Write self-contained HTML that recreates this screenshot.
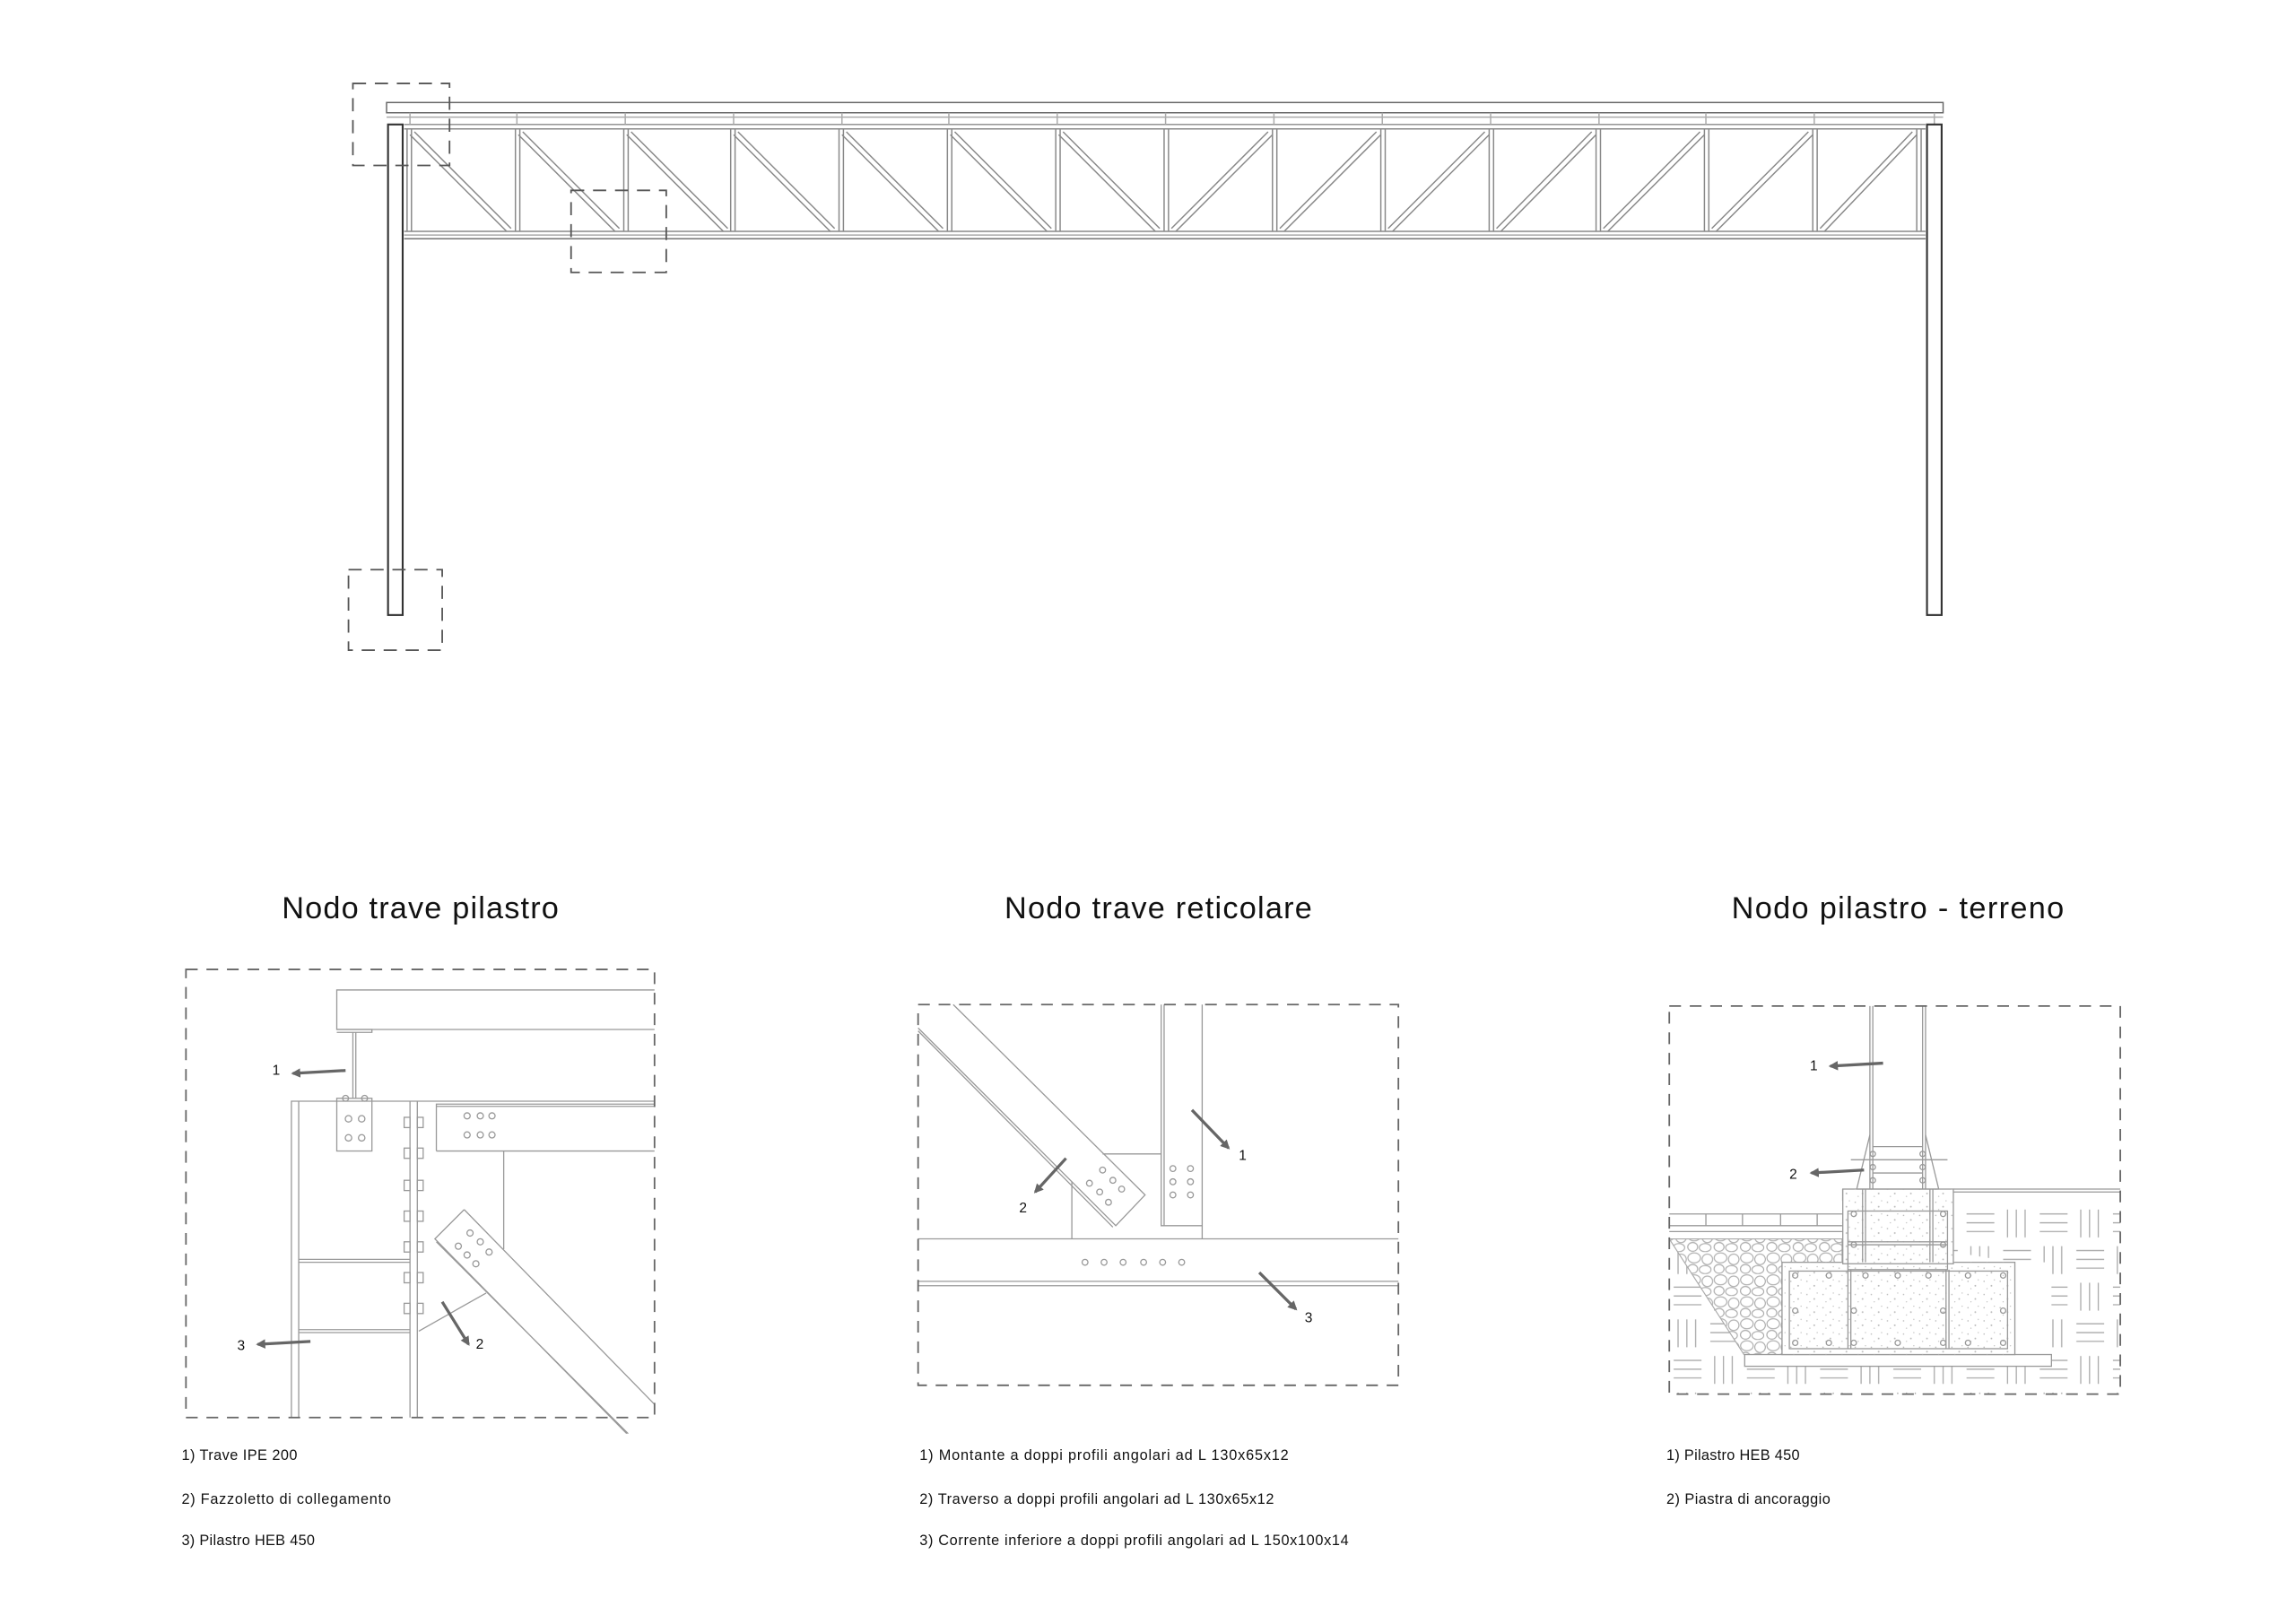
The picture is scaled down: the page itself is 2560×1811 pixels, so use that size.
<!DOCTYPE html>
<html><head><meta charset="utf-8"><style>
html,body{margin:0;padding:0;background:#fff}
svg{display:block}
text{font-family:"Liberation Sans Narrow","Liberation Sans",sans-serif;fill:#111}
</style></head><body>
<svg width="2560" height="1811" viewBox="0 0 1568 1109" preserveAspectRatio="none" xmlns="http://www.w3.org/2000/svg">
<defs>
<pattern id="soil" width="50" height="50" patternUnits="userSpaceOnUse" x="1140" y="823">
<g stroke="#aaa" stroke-width="0.8" fill="none">
<path d="M3 6H22M3 12H22M3 18H22"/>
<path d="M31 3V22M37 3V22M43 3V22"/>
<path d="M6 28V47M12 28V47M18 28V47"/>
<path d="M28 31H47M28 37H47M28 43H47"/>
</g></pattern>
<pattern id="grav" width="18" height="15" patternUnits="userSpaceOnUse">
<g stroke="#aaa" stroke-width="0.7" fill="none">
<ellipse cx="5" cy="4" rx="4.3" ry="3.4"/><ellipse cx="14" cy="5" rx="3.6" ry="3.6"/>
<ellipse cx="4" cy="11.5" rx="3.4" ry="3"/><ellipse cx="12.5" cy="12" rx="4" ry="2.8"/>
</g></pattern>
<pattern id="conc" width="11" height="9" patternUnits="userSpaceOnUse">
<g fill="#bbb"><circle cx="2" cy="2" r="0.5"/><circle cx="7" cy="5" r="0.6"/><circle cx="4" cy="7" r="0.4"/><circle cx="9" cy="1" r="0.4"/></g></pattern>
<marker id="ah" viewBox="0 0 10 10" refX="8" refY="5" markerWidth="3.2" markerHeight="3.2" orient="auto"><path d="M0 0L10 5L0 10z" fill="#666"/></marker>
</defs>

<!-- ================= TRUSS ================= -->
<g fill="none" stroke="#888" stroke-width="0.9">
<rect x="264" y="70" width="1063" height="7" stroke="#666"/>
<line x1="264" y1="80" x2="1327" y2="80" stroke="#aaa"/>
<line x1="276" y1="85" x2="1315" y2="85"/>
<line x1="276" y1="88" x2="1315" y2="88"/>
<line x1="276" y1="158" x2="1315" y2="158"/>
<line x1="276" y1="160.5" x2="1315" y2="160.5" stroke="#aaa"/>
<line x1="276" y1="163" x2="1315" y2="163" stroke="#666"/>
</g>
<g fill="none" stroke="#888" stroke-width="0.9">
<path d="M278 88V158M281 88V158M352 88V158M355 88V158M426 88V158M429 88V158M499 88V158M502 88V158M573 88V158M576 88V158M647 88V158M650 88V158M721 88V158M724 88V158M795 88V158M798 88V158M869 88V158M872 88V158M943 88V158M946 88V158M1017 88V158M1020 88V158M1090 88V158M1093 88V158M1164 88V158M1167 88V158M1238 88V158M1241 88V158M1309 88V158M1312 88V158"/>
<path d="M280 77V85M353 77V85M427 77V85M501 77V85M575 77V85M648 77V85M722 77V85M796 77V85M870 77V85M944 77V85M1018 77V85M1092 77V85M1165 77V85M1239 77V85M1321 77V85" stroke="#aaa"/>
<path d="M283 90L349 156M280 92L346 158M357 90L423 156M354 92L420 158M431 90L497 156M428 92L494 158M504 90L570 156M501 92L567 158M578 90L644 156M575 92L641 158M652 90L718 156M649 92L715 158M726 90L792 156M723 92L789 158"/>
<path d="M800 156L866 90M803 158L869 92M874 156L940 90M877 158L943 92M948 156L1014 90M951 158L1017 92M1022 156L1087 90M1025 158L1090 92M1095 156L1161 90M1098 158L1164 92M1169 156L1235 90M1172 158L1238 92M1243 156L1306 90M1246 158L1309 92"/>
</g>
<rect x="265" y="85" width="10" height="335" fill="#fff" stroke="#333" stroke-width="1.3"/>
<rect x="1316" y="85" width="10" height="335" fill="#fff" stroke="#333" stroke-width="1.3"/>

<g fill="none" stroke="#555" stroke-width="1.1" stroke-dasharray="9 6">
<rect x="241" y="57" width="66" height="56"/>
<rect x="390" y="130" width="65" height="56"/>
<rect x="238" y="389" width="64" height="55"/>
</g>

<!-- ================= TITLES ================= -->
<text x="287" y="627" font-size="21" text-anchor="middle" textLength="189" style="font-family:'Liberation Sans',sans-serif">Nodo trave pilastro</text>
<text x="791" y="627" font-size="21" text-anchor="middle" textLength="210" style="font-family:'Liberation Sans',sans-serif">Nodo trave reticolare</text>
<text x="1296" y="627" font-size="21" text-anchor="middle" textLength="227" style="font-family:'Liberation Sans',sans-serif">Nodo pilastro - terreno</text>

<!-- ================= DETAIL 1 ================= -->
<g fill="none" stroke="#999" stroke-width="0.8">
<path d="M447 676H230V703H447"/>
<path d="M230 703H254V705H230"/>
<path d="M241 705V750M243 705V750"/>
<rect x="230" y="750" width="24" height="36"/>
<circle cx="238" cy="764" r="2.2"/><circle cx="247" cy="764" r="2.2"/>
<circle cx="238" cy="777" r="2.2"/><circle cx="247" cy="777" r="2.2"/>
<circle cx="236" cy="750" r="2"/><circle cx="249" cy="750" r="2"/>
<path d="M199 968V752H447M204 968V752"/>
<path d="M280 968V752M285 968V752"/>
<path d="M298 786V754H447M298 755.5H447M298 786H447"/>
<circle cx="319" cy="762" r="2.1"/><circle cx="328" cy="762" r="2.1"/><circle cx="336" cy="762" r="2.1"/>
<circle cx="319" cy="775" r="2.1"/><circle cx="328" cy="775" r="2.1"/><circle cx="336" cy="775" r="2.1"/>
<path d="M204 860H280M204 862H280M204 908H280M204 910H280"/>
<path d="M344 786V853"/>
<path d="M286 909L332 883"/>
<path d="M317 826L297 846L428 979M317 826L447 959M298 848L429 979"/>
<circle cx="321" cy="842" r="2.1"/><circle cx="328" cy="848" r="2.1"/><circle cx="334" cy="855" r="2.1"/>
<circle cx="313" cy="851" r="2.1"/><circle cx="319" cy="857" r="2.1"/><circle cx="325" cy="863" r="2.1"/>
</g>
<g fill="none" stroke="#999" stroke-width="0.8">
<rect x="276" y="763" width="4" height="7"/><rect x="285" y="763" width="4" height="7"/>
<rect x="276" y="784" width="4" height="7"/><rect x="285" y="784" width="4" height="7"/>
<rect x="276" y="806" width="4" height="7"/><rect x="285" y="806" width="4" height="7"/>
<rect x="276" y="827" width="4" height="7"/><rect x="285" y="827" width="4" height="7"/>
<rect x="276" y="848" width="4" height="7"/><rect x="285" y="848" width="4" height="7"/>
<rect x="276" y="869" width="4" height="7"/><rect x="285" y="869" width="4" height="7"/>
<rect x="276" y="890" width="4" height="7"/><rect x="285" y="890" width="4" height="7"/>
</g>
<rect x="127" y="662" width="320" height="306" fill="none" stroke="#666" stroke-width="1.1" stroke-dasharray="8 6"/>
<g stroke="#666" stroke-width="2" marker-end="url(#ah)">
<line x1="236" y1="731" x2="200" y2="733"/>
<line x1="302" y1="889" x2="320" y2="918"/>
<line x1="212" y1="916" x2="176" y2="918"/>
</g>
<g font-size="9.5" style="font-family:'Liberation Sans',sans-serif">
<text x="186" y="734">1</text><text x="325" y="921">2</text><text x="162" y="922">3</text>
</g>

<!-- ================= DETAIL 2 ================= -->
<g fill="none" stroke="#999" stroke-width="0.8">
<path d="M793 686V837H821V686M795 686V837"/>
<path d="M821 837V846"/>
<path d="M627 846H955M627 875H955M627 878H955"/>
<path d="M753 788H793M732 807V846"/>
<path d="M651 686L782 816L762 837L627 702M627 704L760 838"/>
<circle cx="753" cy="799" r="2"/><circle cx="760" cy="806" r="2"/><circle cx="766" cy="812" r="2"/>
<circle cx="744" cy="808" r="2"/><circle cx="751" cy="814" r="2"/><circle cx="757" cy="821" r="2"/>
<circle cx="801" cy="798" r="2"/><circle cx="813" cy="798" r="2"/>
<circle cx="801" cy="807" r="2"/><circle cx="813" cy="807" r="2"/>
<circle cx="801" cy="816" r="2"/><circle cx="813" cy="816" r="2"/>
<circle cx="741" cy="862" r="2"/><circle cx="754" cy="862" r="2"/><circle cx="767" cy="862" r="2"/>
<circle cx="781" cy="862" r="2"/><circle cx="794" cy="862" r="2"/><circle cx="807" cy="862" r="2"/>
</g>
<rect x="627" y="686" width="328" height="260" fill="none" stroke="#666" stroke-width="1.1" stroke-dasharray="8 6"/>
<g stroke="#666" stroke-width="2" marker-end="url(#ah)">
<line x1="814" y1="758" x2="839" y2="784"/>
<line x1="728" y1="791" x2="707" y2="814"/>
<line x1="860" y1="869" x2="885" y2="894"/>
</g>
<g font-size="9.5" style="font-family:'Liberation Sans',sans-serif">
<text x="846" y="792">1</text><text x="696" y="828">2</text><text x="891" y="903">3</text>
</g>

<!-- ================= DETAIL 3 ================= -->
<g>
<path d="M1140 823H1258V812H1334V823H1448V952H1140V846L1191 925H1401V862H1376" fill="url(#soil)"/>
<rect x="1140" y="823" width="118" height="24" fill="#fff"/>
<path d="M1140 846H1258V862H1217V925H1191Z" fill="url(#grav)" stroke="#aaa" stroke-width="0.7"/>
<rect x="1191.5" y="925" width="209.5" height="8" fill="#fff" stroke="#999" stroke-width="0.8"/>
<rect x="1217" y="862" width="159" height="63" fill="#fff" stroke="#999" stroke-width="0.8"/>
<rect x="1217" y="862" width="159" height="63" fill="url(#conc)"/>
<rect x="1258.5" y="812" width="75.5" height="51" fill="#fff" stroke="#999" stroke-width="0.8"/>
<rect x="1258.5" y="812" width="75.5" height="51" fill="url(#conc)"/>
</g>
<g fill="none" stroke="#999" stroke-width="0.8">
<path d="M1140 829H1258M1140 837H1258M1140 841H1258M1165 829V837M1190 829V837M1216 829V837M1241 829V837"/>
<path d="M1334 812H1448M1334 814H1448"/>
<rect x="1262" y="827" width="68" height="40"/>
<path d="M1262 848H1330M1262 850H1330"/>
<rect x="1222" y="868" width="149" height="53"/>
<path d="M1262 867V921M1264 867V921M1329 867V921M1331 867V921"/>
<path d="M1272 812V862M1274 812V862M1318 812V862M1320 812V862"/>
<path d="M1277 687V812M1279 687V812M1313 687V812M1315 687V812"/>
<path d="M1277 775L1268 812M1315 775L1324 812M1268 812H1324"/>
<path d="M1279 783H1313M1264 792H1330M1279 801H1313"/>
<circle cx="1279" cy="788" r="1.8"/><circle cx="1313" cy="788" r="1.8"/>
<circle cx="1279" cy="797" r="1.8"/><circle cx="1313" cy="797" r="1.8"/>
<circle cx="1279" cy="806" r="1.8"/><circle cx="1313" cy="806" r="1.8"/>
<g><circle cx="1226" cy="871" r="1.8"/><circle cx="1249" cy="871" r="1.8"/><circle cx="1274" cy="871" r="1.8"/><circle cx="1296" cy="871" r="1.8"/><circle cx="1317" cy="871" r="1.8"/><circle cx="1344" cy="871" r="1.8"/><circle cx="1368" cy="871" r="1.8"/>
<circle cx="1226" cy="917" r="1.8"/><circle cx="1249" cy="917" r="1.8"/><circle cx="1266" cy="917" r="1.8"/><circle cx="1296" cy="917" r="1.8"/><circle cx="1327" cy="917" r="1.8"/><circle cx="1344" cy="917" r="1.8"/><circle cx="1368" cy="917" r="1.8"/>
<circle cx="1226" cy="895" r="1.8"/><circle cx="1266" cy="895" r="1.8"/><circle cx="1327" cy="895" r="1.8"/><circle cx="1368" cy="895" r="1.8"/>
<circle cx="1266" cy="829" r="1.8"/><circle cx="1327" cy="829" r="1.8"/><circle cx="1266" cy="850" r="1.8"/><circle cx="1327" cy="850" r="1.8"/></g>
</g>
<rect x="1140" y="687" width="308" height="265" fill="none" stroke="#666" stroke-width="1.1" stroke-dasharray="8 6"/>
<g stroke="#666" stroke-width="2" marker-end="url(#ah)">
<line x1="1286" y1="726" x2="1250" y2="728"/>
<line x1="1273" y1="799" x2="1237" y2="801"/>
</g>
<g font-size="9.5" style="font-family:'Liberation Sans',sans-serif">
<text x="1236" y="731">1</text><text x="1222" y="805">2</text>
</g>

<!-- ================= LEGENDS ================= -->
<g font-size="10">
<text x="124" y="997" textLength="79">1) Trave IPE 200</text>
<text x="124" y="1027" textLength="143">2) Fazzoletto di collegamento</text>
<text x="124" y="1055" textLength="91">3) Pilastro HEB 450</text>
<text x="628" y="997" textLength="252">1) Montante a doppi profili angolari ad L 130x65x12</text>
<text x="628" y="1027" textLength="242">2) Traverso a doppi profili angolari ad L 130x65x12</text>
<text x="628" y="1055" textLength="293">3) Corrente inferiore a doppi profili angolari ad L 150x100x14</text>
<text x="1138" y="997" textLength="91">1) Pilastro HEB 450</text>
<text x="1138" y="1027" textLength="112">2) Piastra di ancoraggio</text>
</g>
</svg>
</body></html>
